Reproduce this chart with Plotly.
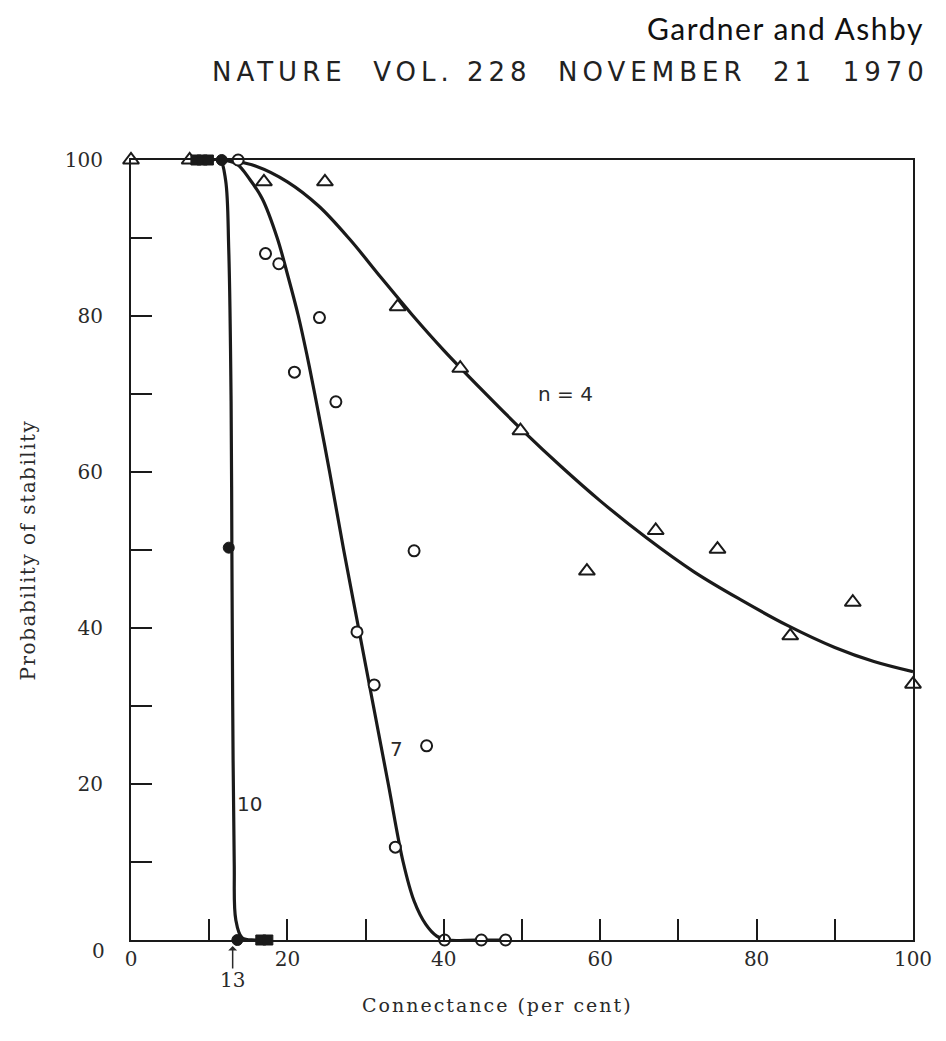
import plotly.graph_objects as go

# ---- data ----
# n = 4 (open triangles)
n4_x = [0, 7.5, 17.0, 24.8, 34.1, 42.1, 49.8, 58.3, 67.1, 75.0, 84.3, 92.3, 100]
n4_y = [100, 100, 97.2, 97.2, 81.2, 73.3, 65.3, 47.3, 52.5, 50.1, 39.0, 43.3, 32.8]
# n = 7 (open circles)
n7_x = [13.7, 17.2, 18.9, 20.9, 24.1, 26.2, 28.9, 31.1, 33.8, 36.2, 37.8, 40.1, 44.8, 47.9]
n7_y = [100, 88.0, 86.7, 72.8, 79.8, 69.0, 39.5, 32.7, 11.9, 49.9, 24.9, 0, 0, 0]
# n = 10 (filled circles and filled squares)
n10c_x = [11.6, 12.5, 13.6]
n10c_y = [100, 50.3, 0]
n10s_x = [8.3, 9.1, 9.9, 16.6, 17.5]
n10s_y = [100, 100, 100, 0, 0]

# fitted curves
c4_x = [12.5, 16, 20, 24, 28, 32, 36, 40, 45, 50, 55, 60, 66, 72, 78, 84, 90, 95, 100]
c4_y = [100, 99.2, 97.2, 94.1, 89.8, 84.9, 80.1, 75.6, 70.4, 65.4, 60.7, 56.3, 51.5,
        47.2, 43.6, 40.3, 37.5, 35.7, 34.4]
c7_x = [11.5, 13.5, 15.2, 16.8, 18.7, 20.1, 21.4, 22.5, 23.5, 25.4, 27.2, 29.1, 31.0, 32.9, 34.8, 36.2, 37.7, 39.1, 40.5, 44, 48]
c7_y = [100, 99.5, 97.5, 95, 90, 85, 80, 75, 70, 60, 50, 40, 30, 20, 10, 5, 2, 0.5, 0, 0, 0]
c10_x = [10.4, 11.4, 12.1, 12.5, 12.8, 12.9, 13.0, 13.2, 13.4, 14.2, 15.9, 18]
c10_y = [100, 100, 97.4, 88.5, 69, 50, 30.8, 10, 2.6, 0.3, 0, 0]

x_ticks = list(range(0, 101, 10))
x_labels = ["0", "", "20", "", "40", "", "60", "", "80", "", "100"]
y_ticks = list(range(0, 101, 10))
y_labels = ["", "", "20", "", "40", "", "60", "", "80", "", "100"]
marker_x = 13
marker_label = "13"

INK = "#1a1a1a"
TXT = "#2a2a2a"
fig = go.Figure()

for cx, cy in [(c4_x, c4_y), (c7_x, c7_y), (c10_x, c10_y)]:
    fig.add_trace(go.Scatter(x=cx, y=cy, mode="lines", cliponaxis=False,
                             line=dict(color=INK, width=3.2, shape="spline", smoothing=1.0),
                             hoverinfo="skip", showlegend=False))

fig.add_trace(go.Scatter(x=n4_x, y=n4_y, mode="markers", showlegend=False, cliponaxis=False,
                         marker=dict(symbol="triangle-up", size=14, color="white",
                                     line=dict(color=INK, width=2))))
fig.add_trace(go.Scatter(x=n7_x, y=n7_y, mode="markers", showlegend=False, cliponaxis=False,
                         marker=dict(symbol="circle", size=11, color="white",
                                     line=dict(color=INK, width=2))))
fig.add_trace(go.Scatter(x=n10s_x, y=n10s_y, mode="markers", showlegend=False, cliponaxis=False,
                         marker=dict(symbol="square", size=10, color=INK,
                                     line=dict(color=INK, width=1))))
fig.add_trace(go.Scatter(x=n10c_x, y=n10c_y, mode="markers", showlegend=False, cliponaxis=False,
                         marker=dict(symbol="circle", size=11, color=INK,
                                     line=dict(color=INK, width=1))))

W, H = 946, 1041
L, R, T, B = 131, 33, 160, 101
pw, ph = W - L - R, H - T - B
def px(xp):
    return (xp - L) / pw
def py(yp):
    return (H - B - yp) / ph

serif = "DejaVu Serif"
sans = "DejaVu Sans"
fig.add_annotation(x=55.5, y=70, text="n = 4", showarrow=False,
                   font=dict(family=sans, size=20, color=TXT))
fig.add_annotation(x=34, y=24.5, text="7", showarrow=False,
                   font=dict(family=sans, size=20, color=TXT))
fig.add_annotation(x=15.2, y=17.5, text="10", showarrow=False,
                   font=dict(family=sans, size=20, color=TXT))
# upward arrow under the x axis at x = 13 (y in paper units so it is not cut at the axis edge)
fig.add_annotation(x=marker_x, xref="x", y=0, yref="paper", text="", showarrow=True,
                   ax=0, ay=30, arrowhead=1, arrowsize=1.0, arrowwidth=1.5,
                   arrowcolor=TXT, standoff=6, startstandoff=0)
fig.add_annotation(x=marker_x, y=0, yshift=-40, text=marker_label, showarrow=False,
                   font=dict(family=serif, size=20, color=TXT))
fig.add_annotation(x=0, y=0, xref="paper", yref="y", xanchor="right", xshift=-24, yshift=-11,
                   text="0", showarrow=False, font=dict(family=serif, size=20, color=TXT))
fig.add_annotation(x=px(497), y=py(1005), xref="paper", yref="paper",
                   xanchor="center", yanchor="middle", showarrow=False,
                   text='<span style="letter-spacing:2px">Connectance (per cent)</span>',
                   font=dict(family=serif, size=19, color=TXT))
fig.add_annotation(x=px(926), y=py(28), xref="paper", yref="paper", xanchor="right",
                   yanchor="middle", showarrow=False,
                   text='<span style="letter-spacing:1.5px">Gardner and Ashby</span>',
                   font=dict(family="Lato", size=30, color="#111"))
fig.add_annotation(x=px(931), y=py(72), xref="paper", yref="paper", xanchor="right",
                   yanchor="middle", showarrow=False,
                   text='<span style="letter-spacing:5px">NATURE\u00a0\u00a0VOL.\u00a0228\u00a0\u00a0NOVEMBER\u00a0\u00a021\u00a0\u00a01970</span>',
                   font=dict(family=sans, size=26, color="#222"))

fig.update_layout(
    width=W, height=H,
    margin=dict(l=L, r=R, t=T, b=B),
    paper_bgcolor="white", plot_bgcolor="white",
    xaxis=dict(range=[0, 100], tickvals=x_ticks, ticktext=x_labels,
               ticks="inside", ticklen=21, tickwidth=1.5, tickcolor=INK,
               showline=True, linecolor=INK, linewidth=2, mirror=True,
               showgrid=False, zeroline=False,
               tickfont=dict(family=serif, size=20, color=TXT)),
    yaxis=dict(range=[0, 100], tickvals=y_ticks, ticktext=y_labels,
               ticks="inside", ticklen=21, tickwidth=1.5, tickcolor=INK,
               showline=True, linecolor=INK, linewidth=2, mirror=True,
               showgrid=False, zeroline=False, ticklabelstandoff=22,
               tickfont=dict(family=serif, size=20, color=TXT),
               title=dict(text='<span style="letter-spacing:1.5px">Probability of stability</span>',
                          standoff=24, font=dict(family=serif, size=20, color=TXT))),
)

fig.write_html("out.html")
